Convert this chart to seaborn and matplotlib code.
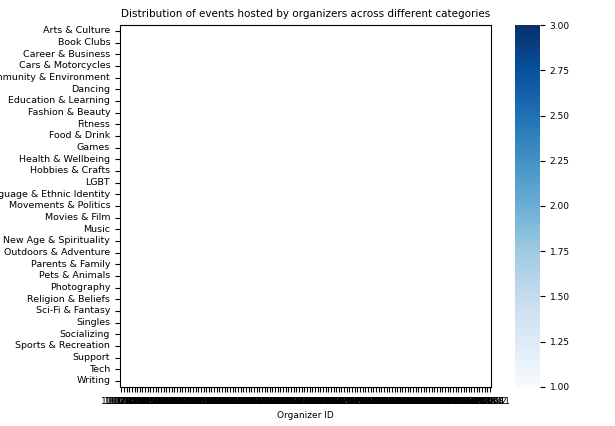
import numpy as np
import pandas as pd
import seaborn as sns
import matplotlib.pyplot as plt

categories = ["Arts & Culture", "Book Clubs", "Career & Business", "Cars & Motorcycles",
              "Community & Environment", "Dancing", "Education & Learning", "Fashion & Beauty",
              "Fitness", "Food & Drink", "Games", "Health & Wellbeing", "Hobbies & Crafts",
              "LGBT", "Language & Ethnic Identity", "Movements & Politics", "Movies & Film",
              "Music", "New Age & Spirituality", "Outdoors & Adventure", "Parents & Family",
              "Pets & Animals", "Photography", "Religion & Beliefs", "Sci-Fi & Fantasy",
              "Singles", "Socializing", "Sports & Recreation", "Support", "Tech", "Writing"]
organizer_ids = [str(1000000 + i * 7919) for i in range(140)]
# counts are too sparse to be visible in the reference; grid left empty
event_counts = np.full((len(categories), len(organizer_ids)), np.nan)

df = pd.DataFrame(event_counts, index=categories, columns=organizer_ids)

fig = plt.figure(figsize=(6.15, 4.26), dpi=100)
ax = fig.add_axes([0.195, 0.092, 0.604, 0.849])
cax = fig.add_axes([0.837, 0.092, 0.041, 0.849])
sns.heatmap(df, cmap="Blues", vmin=1, vmax=3, ax=ax, cbar_ax=cax,
            xticklabels=True, yticklabels=True)
for s in ax.spines.values():
    s.set_visible(True)
    s.set_linewidth(0.8)
ax.set_title("Distribution of events hosted by organizers across different categories", fontsize=7.5)
ax.set_xlabel("Organizer ID", fontsize=6.5)
ax.set_ylabel("")
ax.tick_params(axis="y", labelsize=6.8, rotation=0)
ax.tick_params(axis="x", labelsize=6.5, rotation=0)
cax.tick_params(labelsize=6.5)
fig.savefig("out.png")
